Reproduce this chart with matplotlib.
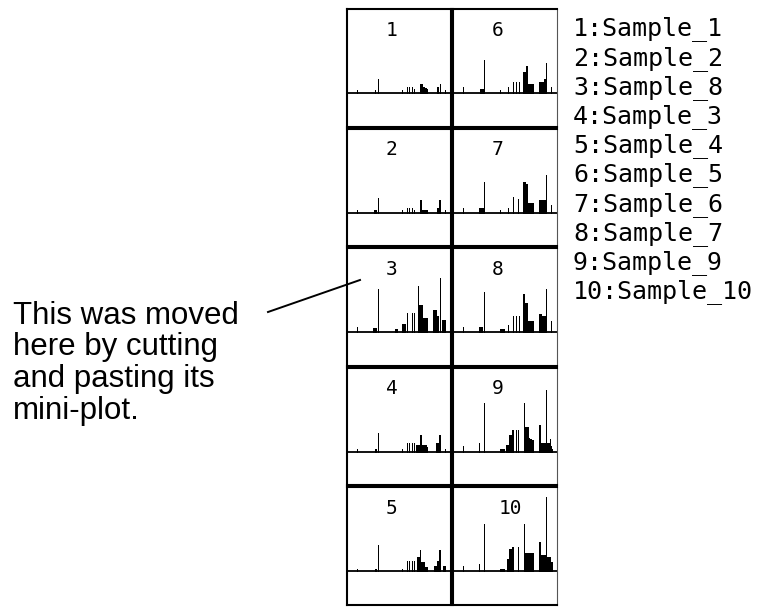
import matplotlib
matplotlib.use('Agg')
import matplotlib.pyplot as plt
from matplotlib.lines import Line2D

# channel positions shared by all spectra
mz = [11, 26, 27, 28, 29, 30, 31, 32,
      48, 49, 50, 51, 52, 54, 55, 56, 57, 58, 59, 60, 61, 62, 63, 64, 66, 67, 68,
      70, 71, 72, 73, 74, 75, 76, 77, 78, 79, 80, 81,
      87, 88, 89, 90, 91, 92, 93, 94, 95, 96, 97, 98, 99, 100]

sample_1 = [3, 0, 0, 0, 3, 0, 0, 14,
            0, 0, 0, 0, 0, 0, 0, 3, 0, 0, 0, 0, 6, 0, 6, 0, 6, 0, 4,
            0, 0, 0, 0, 9, 9, 9, 6, 6, 5, 5, 4,
            0, 0, 0, 0, 6, 6, 0, 9, 0, 0, 0, 0, 3, 0]
sample_2 = [2.5, 0, 0, 3, 3, 3, 0, 15,
            0, 0, 0, 0, 0, 0, 0, 2.5, 0, 0, 0, 0, 5, 0, 5, 0, 5, 0, 2.5,
            0, 0, 0, 0, 12.5, 12.5, 2.5, 2.5, 2.5, 2.5, 2.5, 2.5,
            0, 0, 0, 0, 5, 5, 12.5, 12.5, 0, 0, 0, 0, 2.5, 0]
sample_3 = [3, 0, 0, 0, 3, 3, 0, 19,
            0, 0, 0, 0, 0, 0, 0, 3, 0, 0, 0, 0, 8.5, 0, 8.5, 0, 8.5, 0, 8.5,
            6.5, 6.5, 6.5, 6.5, 16.5, 16.5, 6.5, 6.5, 6.5, 6.5, 6.5, 5,
            0, 0, 0, 8.5, 8.5, 8.5, 16.5, 16.5, 0, 0, 0, 0, 3, 0]
sample_4 = [2.5, 0, 0, 0, 2.5, 2.5, 0, 26.5,
            0, 0, 0, 0, 0, 0, 0, 2.5, 0, 0, 0, 0, 10, 0, 10, 0, 10, 0, 10,
            0, 14, 14, 14, 21, 9, 9, 9, 9, 4.5, 4.5, 4.5,
            0, 5, 5, 5, 10, 10, 21, 21, 0, 0, 5, 5, 5, 0]
sample_5 = [6, 0, 0, 4.5, 4.5, 4.5, 4.5, 33,
            3, 0, 0, 0, 0, 0, 0, 6, 0, 0, 0, 0, 11, 0, 0, 11, 0, 11, 0,
            0, 21, 21, 21, 27, 27, 9, 9, 9, 9, 9, 9,
            11, 11, 11, 11, 11, 14, 14, 30, 0, 0, 0, 0, 6, 0]
sample_6 = [4.5, 0, 4.5, 4.5, 4.5, 4.5, 4.5, 31,
            2.5, 0, 0, 0, 0, 0, 0, 5, 0, 0, 0, 0, 15.5, 0, 0, 0, 13.5, 0, 0,
            0, 31, 31, 31, 29, 29, 10, 10, 10, 10, 10, 10,
            12.5, 12.5, 12.5, 12.5, 12.5, 12.5, 12.5, 37.5, 0, 0, 0, 0, 7.5, 0]
sample_7 = [5, 0, 5, 5, 5, 5, 0, 40,
            3.5, 3.5, 3.5, 3.5, 3.5, 0, 0, 7, 0, 0, 0, 0, 16, 0, 0, 16, 0, 16, 0,
            0, 38, 38, 29, 29, 29, 11, 11, 11, 11, 11, 11,
            18.5, 18.5, 18.5, 16, 16, 16, 16, 43, 0, 0, 0, 0, 11, 0]
sample_8 = [5, 0, 4.5, 4.5, 4.5, 4.5, 0, 43,
            0, 3.5, 3.5, 3.5, 0, 0, 0, 8, 8, 8, 8, 0, 19, 0, 0, 0, 19, 0, 19,
            0, 0, 46, 27, 27, 27, 27, 14, 14, 14, 14, 14,
            22, 22, 22, 22, 16, 16, 0, 54, 0, 12, 12, 12, 12, 0]
sample_9 = [6, 0, 8.5, 0, 0, 0, 0, 48.5,
            3, 3, 3, 3, 3, 7, 7, 7, 17, 17, 17, 22, 22, 0, 0, 22, 22, 0, 0,
            0, 0, 48.5, 25, 25, 25, 25, 14, 13, 13, 12, 12,
            27, 27, 8.5, 8.5, 8.5, 8.5, 8.5, 62, 8.5, 8.5, 8.5, 13, 6, 3]
sample_10 = [5, 0, 7, 0, 0, 0, 0, 47.5,
             2.5, 2.5, 2.5, 2.5, 2.5, 0, 12, 12, 22, 22, 22, 24, 24, 0, 0, 0, 24, 0, 0,
             0, 0, 47.5, 18.5, 18.5, 18.5, 18.5, 18.5, 18.5, 18.5, 18.5, 18.5,
             29, 29, 16, 16, 16, 16, 16, 74.5, 14.5, 14.5, 14.5, 14.5, 9.5, 9.5]

# order of the mini-plots (cell 1..10, down the left column then the right)
cell_names = ['Sample_1', 'Sample_2', 'Sample_8', 'Sample_3', 'Sample_4',
              'Sample_5', 'Sample_6', 'Sample_7', 'Sample_9', 'Sample_10']
spectra = {'Sample_1': sample_1, 'Sample_2': sample_2, 'Sample_3': sample_3,
           'Sample_4': sample_4, 'Sample_5': sample_5, 'Sample_6': sample_6,
           'Sample_7': sample_7, 'Sample_8': sample_8, 'Sample_9': sample_9,
           'Sample_10': sample_10}

note_lines = ['This was moved', 'here by cutting', 'and pasting its', 'mini-plot.']

W, H = 765, 607
fig = plt.figure(figsize=(W / 100, H / 100), dpi=100)


def px_box(x0, y0, x1, y1):
    return [x0 / W, 1 - y1 / H, (x1 - x0) / W, (y1 - y0) / H]


grid_left = 346
col_w = 106
row_top = 8
row_h = 119.6
base = 85     # px from top of a cell down to its zero line
edge = 1.0

for k, name in enumerate(cell_names):
    col, row = divmod(k, 5)
    x0 = grid_left + col * col_w + edge
    x1 = grid_left + (col + 1) * col_w - edge
    y0 = row_top + row * row_h + edge
    y1 = row_top + (row + 1) * row_h - edge
    ax = fig.add_axes(px_box(x0, y0, x1, y1))
    ax.bar(mz, spectra[name], width=0.7, color='black', edgecolor='black',
           linewidth=0.5, antialiased=False)
    ax.axhline(0, color='black', lw=1.3)
    ax.set_xlim(edge, col_w - edge)
    ax.set_ylim(-(y1 - y0 - (base - edge)), base - edge)
    ax.set_xticks([])
    ax.set_yticks([])
    for sp in ax.spines.values():
        sp.set_linewidth(1.5)
    if col == 1:
        ax.spines['right'].set_linewidth(0.8)
        ax.spines['right'].set_color('#555555')
    lbl = str(k + 1)
    ax.text(0.43 + 0.12 * (len(lbl) - 1), 1 - (22 - edge) / (y1 - y0), lbl,
            transform=ax.transAxes, ha='center', va='center',
            fontsize=14, family='DejaVu Sans Mono')

# key to the right of the grid
for i, name in enumerate(cell_names):
    fig.text(573 / W, 1 - (29 + 29.2 * i) / H, f'{i + 1}:{name}',
             ha='left', va='center', fontsize=18, family='DejaVu Sans Mono')

# note on the left with its leader line
for i, line in enumerate(note_lines):
    fig.text(13 / W, 1 - (324 + 31.5 * i) / H, line, ha='left', va='baseline',
             fontsize=22.5, family='Liberation Sans')
fig.add_artist(Line2D([268 / W, 360 / W], [1 - 312 / H, 1 - 280 / H],
                      color='black', lw=1.4))

fig.savefig('out.png', dpi=100)
